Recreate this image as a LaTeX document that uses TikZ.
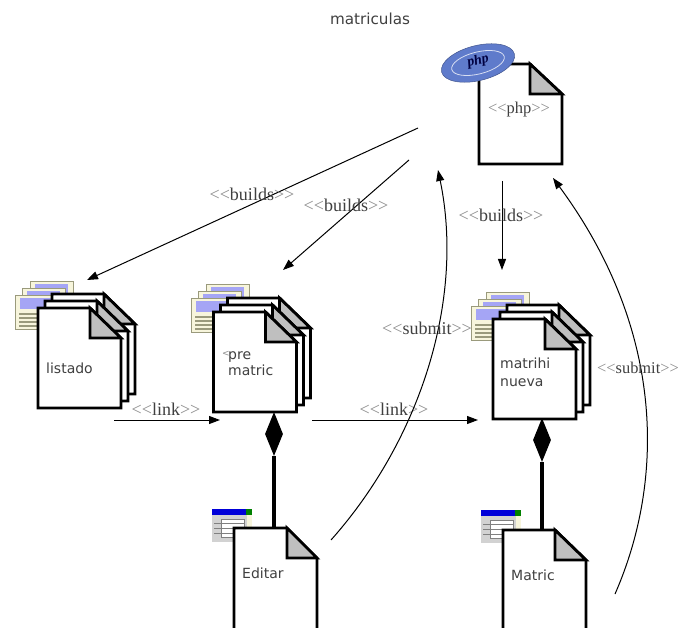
\documentclass[tikz,border=0pt]{standalone}
\usepackage{fontspec}
\setmainfont{DejaVu Sans}
\newfontfamily\stereofont{Liberation Serif}
\usetikzlibrary{arrows.meta,shapes.geometric}
\definecolor{txtgray}{gray}{0.25}
\definecolor{chev}{gray}{0.55}
\definecolor{foldgray}{gray}{0.75}
\definecolor{thumbpaper}{HTML}{F7F5DC}
\definecolor{thumbblue}{HTML}{A5A5F5}
\definecolor{thumbline}{HTML}{9A9A7C}
\definecolor{phpblue}{HTML}{5F7BCB}
\tikzset{
  pageline/.style={draw=black,line width=2.8pt,line join=miter,fill=white},
  foldface/.style={draw=black,line width=2.8pt,fill=foldgray,line join=miter},
  flow/.style={draw=black,line width=1pt,-{Triangle[length=11pt,width=8pt]}},
  curved/.style={draw=black,line width=1pt,-{Triangle[length=11pt,width=8pt]}},
  stereo/.style={font=\stereofont\fontsize{18}{20}\selectfont,text=txtgray,inner sep=0pt},
  doclabel/.style={font=\fontsize{14}{16}\selectfont,text=txtgray,align=left,inner sep=0pt,anchor=west},
  compline/.style={draw=black,line width=3.2pt},
  compdiamond/.style={diamond,fill=black,draw=none,inner sep=0pt,minimum width=0pt,aspect=1},
}
% page: name, left, top, right, bottom, foldx, foldy
\newcommand{\pagesheet}[7]{%
  \path[pageline] (#2,#3) -- (#6,#3) -- (#4,#7) -- (#4,#5) -- (#2,#5) -- cycle;
  \path[foldface] (#6,#3) -- (#4,#7) -- (#6,#7) -- cycle;
  \coordinate (#1) at ({(#2+#4)/2},{(#3+#5)/2});
}
% stacked page: name,left,top
\newcommand{\stackedpages}[3]{%
  \begin{scope}[shift={(#2,#3)}]
    \pagesheet{#1c}{14}{-14}{97}{86}{66}{16}
    \pagesheet{#1b}{7}{-7}{90}{93}{59}{23}
    \pagesheet{#1}{0}{0}{83}{100}{52}{30}
  \end{scope}
}
% web-page thumbnail
\newcommand{\webthumb}[2]{%
  \begin{scope}[shift={(#1,#2)}]
    \path[fill=thumbpaper,draw=thumbline,line width=0.9pt] (0,0) rectangle (43,34);
    \path[fill=thumbblue] (5,3) rectangle (38,14);
    \foreach \yy in {19,23,27,31}{\path[draw=thumbline,line width=1.2pt] (4,\yy) -- (39,\yy);}
  \end{scope}
}
\newcommand{\thumbstack}[2]{%
  \begin{scope}[shift={(#1,#2)}]
    \webthumb{15}{-14}\webthumb{7}{-7}\webthumb{0}{0}
  \end{scope}
}
% form icon
\newcommand{\formicon}[2]{%
  \begin{scope}[shift={(#1,#2)}]
    \path[fill=gray!35] (0,0) rectangle (40,33);
    \path[fill=thumbpaper] (35,5) rectangle (40,33);
    \path[fill=blue!85!black] (0,0) rectangle (34,6);
    \path[fill=green!50!black] (34,0) rectangle (40,6);
    \path[fill=white,draw=gray,line width=0.5pt] (9,10) rectangle (32,28);
    \foreach \yy in {14,19,24}{\path[draw=gray,line width=0.6pt] (2,\yy) -- (32,\yy);}
  \end{scope}
}
\begin{document}
\begin{tikzpicture}[x=1pt,y=-1pt]
\useasboundingbox (0,0) rectangle (680,628);
\path[fill=white] (0,0) rectangle (680,628);

\node[font=\fontsize{15.2}{17}\selectfont,text=txtgray,inner sep=0pt] (title) at (370,19) {matriculas};

% php server page
\pagesheet{phpdoc}{479}{64}{562}{164}{530}{94}
\node[rotate=14,ellipse,fill=phpblue,draw=phpblue!70!black,line width=0.5pt,minimum width=75pt,minimum height=35pt,inner sep=0pt] (phpoval) at (478,63) {};
\node[rotate=14,ellipse,draw=white!75!phpblue,line width=0.8pt,minimum width=54pt,minimum height=22pt,inner sep=0pt] (phpring) at (478,63) {};
\node[rotate=14,font=\stereofont\itshape\bfseries\fontsize{14}{16}\selectfont,text=black!75!blue,inner sep=0pt] (phpmark) at (478,61) {php};
\node[stereo,font=\stereofont\fontsize{16.5}{18}\selectfont] (phplabel) at (519,110) {\textcolor{chev}{<{}<}php\textcolor{chev}{>{}>}};

% stacked pages
\thumbstack{15}{295}
\stackedpages{listado}{38}{308}
\node[doclabel] (listadotxt) at (46,368) {listado};

\thumbstack{191}{298}
\stackedpages{prematric}{213.5}{312}
\node[doclabel,font=\fontsize{9}{10}\selectfont,text=chev] (prematricmark) at (222,354) {<};
\node[doclabel] (prematrictxt) at (228,364) {pre\\matric};

\thumbstack{471}{306}
\stackedpages{matrihi}{493}{319}
\node[doclabel,font=\fontsize{14}{18}\selectfont] (matrihitxt) at (500,372) {matrihi\\nueva};

% forms
\formicon{212}{509}
\pagesheet{editar}{234}{528}{317}{640}{287}{558}
\node[doclabel] (editartxt) at (242,573) {Editar};
\formicon{481}{510}
\pagesheet{matric}{503}{530}{586}{640}{555}{560}
\node[doclabel] (matrictxt) at (511,575) {Matric};
\path[fill=white] (0,628) rectangle (680,650);

% composition
\coordinate (editartop) at (274,528);
\coordinate (matrictop) at (542,530);
\node[compdiamond,minimum height=44pt,minimum width=18pt,aspect=0.41] (dia1) at (274,434) {};
\node[compdiamond,minimum height=44pt,minimum width=18pt,aspect=0.41] (dia2) at (542,440) {};
\draw[compline] (editartop) -- (dia1.south);
\draw[compline] (matrictop) -- (dia2.south);

% builds
\coordinate (b1s) at (418,128); \coordinate (b1e) at (87,280);
\coordinate (b2s) at (409,160); \coordinate (b2e) at (283,270);
\coordinate (b3s) at (502,181); \coordinate (b3e) at (502,270);
\draw[flow] (b1s) -- (b1e);
\draw[flow] (b2s) -- (b2e);
\draw[flow] (b3s) -- (b3e);
\node[stereo] (lb1) at (252,194) {\textcolor{chev}{<{}<}builds\textcolor{chev}{>{}>}};
\node[stereo] (lb2) at (346,205) {\textcolor{chev}{<{}<}builds\textcolor{chev}{>{}>}};
\node[stereo] (lb3) at (501,215) {\textcolor{chev}{<{}<}builds\textcolor{chev}{>{}>}};

% links
\coordinate (l1s) at (114,420); \coordinate (l1e) at (220,420);
\coordinate (l2s) at (312,420); \coordinate (l2e) at (478,420);
\draw[flow] (l1s) -- (l1e);
\draw[flow] (l2s) -- (l2e);
\node[stereo] (ll1) at (166,409) {\textcolor{chev}{<{}<}link\textcolor{chev}{>{}>}};
\node[stereo] (ll2) at (394,409) {\textcolor{chev}{<{}<}link\textcolor{chev}{>{}>}};

% submits
\coordinate (s1s) at (331,540); \coordinate (s1e) at (438,170);
\coordinate (s2s) at (615,594); \coordinate (s2e) at (553,178);
\draw[curved] (s1s) .. controls (420,440) and (465,300) .. (s1e);
\draw[curved] (s2s) .. controls (665,480) and (665,330) .. (s2e);
\node[stereo] (ls1) at (427,328) {\textcolor{chev}{<{}<}submit\textcolor{chev}{>{}>}};
\node[stereo,anchor=west,font=\stereofont\fontsize{16.4}{18}\selectfont] (ls2) at (597,368) {\textcolor{chev}{<{}<}submit\textcolor{chev}{>{}>}};
\end{tikzpicture}
\end{document}
